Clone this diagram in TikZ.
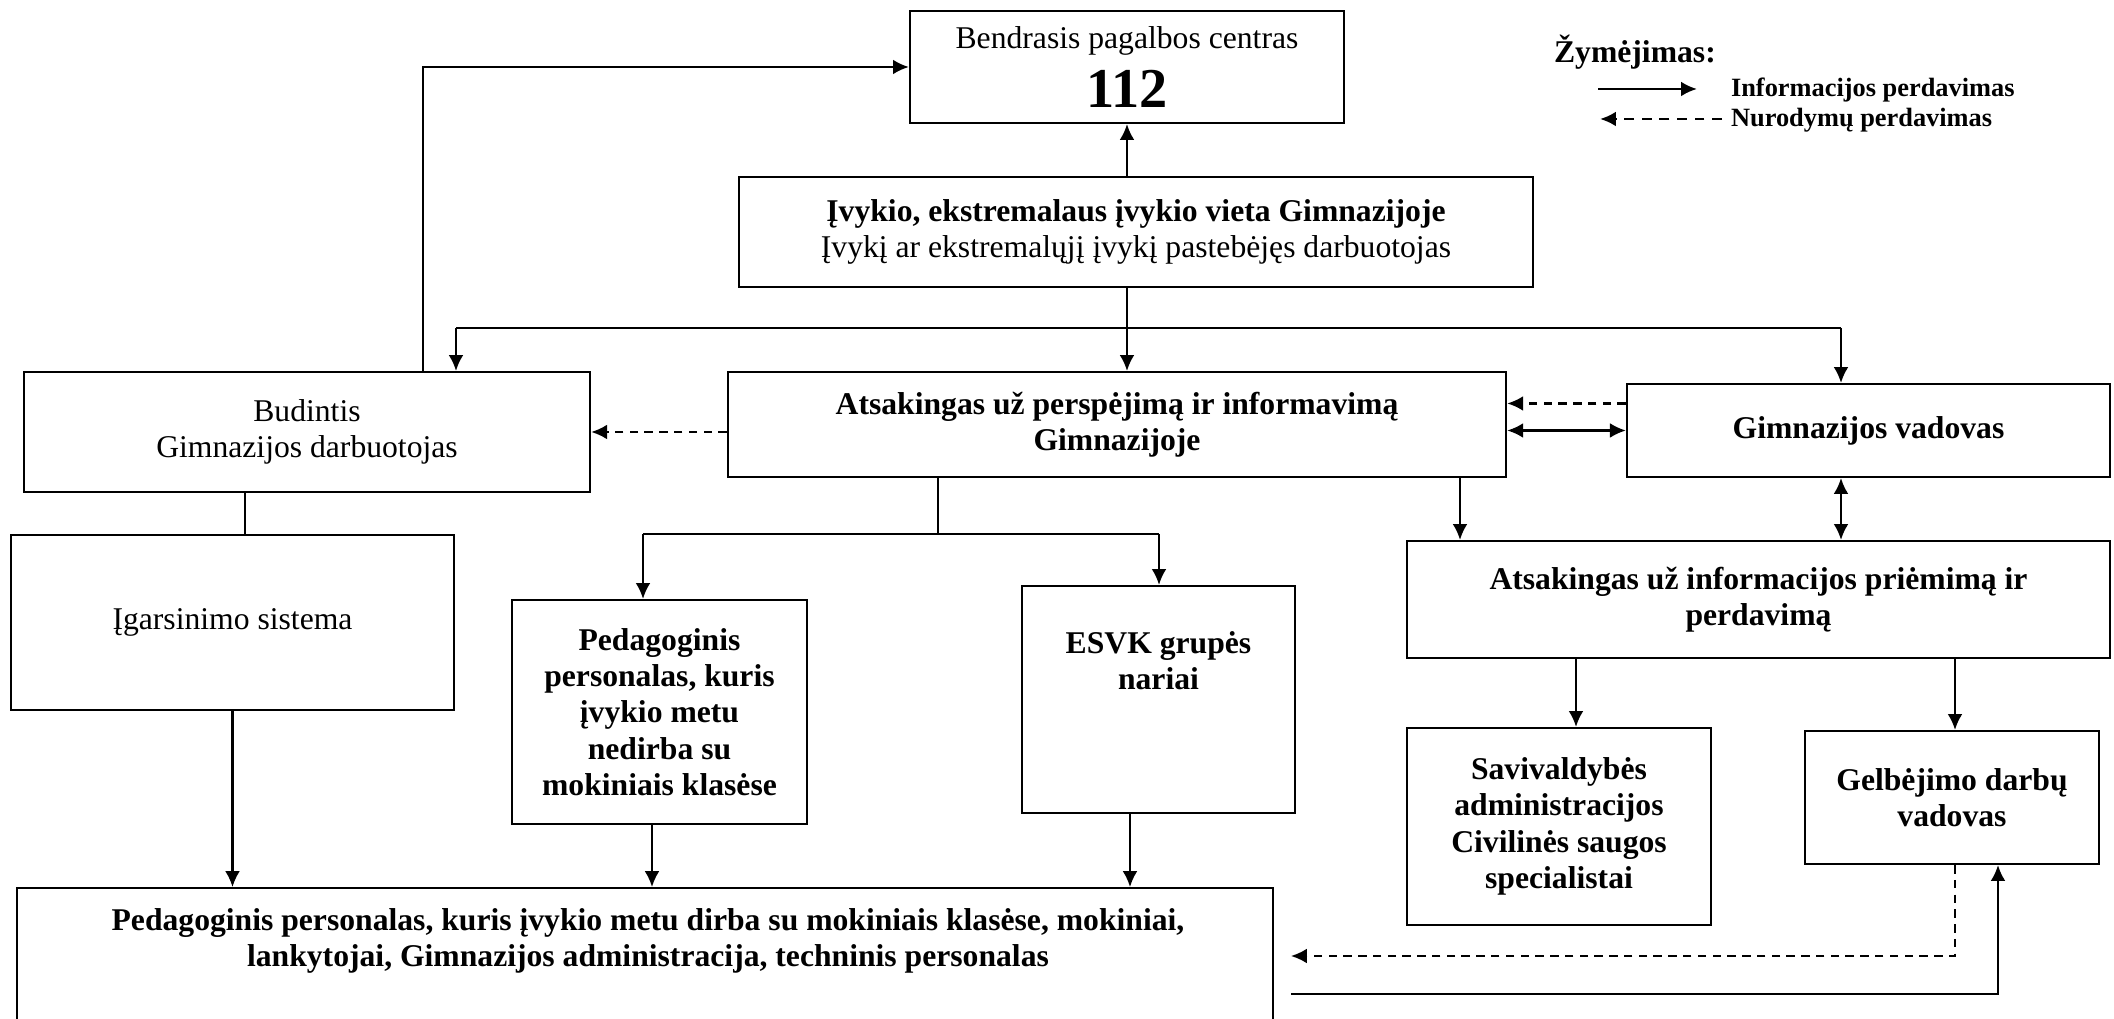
\documentclass[tikz,border=0pt]{standalone}
\usepackage{fontspec}
\setmainfont{Liberation Serif}
\usetikzlibrary{arrows.meta}

\begin{document}
\begin{tikzpicture}[x=0.01cm, y=-0.01cm, line width=0.6pt,
    font=\fontsize{9}{10.3}\selectfont,
    box/.style={draw, align=center, inner sep=2pt},
    info/.style={-{Latex[length=4.5pt,width=4.2pt]}},
    both/.style={{Latex[length=4.5pt,width=4.2pt]}-{Latex[length=4.5pt,width=4.2pt]}},
    instr/.style={dashed, dash pattern=on 2.4pt off 1.8pt, -{Latex[length=4.5pt,width=4.2pt]}}]
\useasboundingbox (0,0) rectangle (2114,1019);
\clip (0,0) rectangle (2114,1019);

\node[box, minimum width=4.34cm, minimum height=1.12cm] (bend) at (1127,67)
    {Bendrasis pagalbos centras\\[3pt]{\fontsize{16}{18}\selectfont\bfseries 112}};
\node[box, minimum width=7.94cm, minimum height=1.10cm] (ivykis) at (1136,232)
    {\textbf{Įvykio, ekstremalaus įvykio vieta Gimnazijoje}\\Įvykį ar ekstremalųjį įvykį pastebėjęs darbuotojas};
\node[box, minimum width=5.66cm, minimum height=1.20cm] (budintis) at (307,432)
    {Budintis\\Gimnazijos darbuotojas};
\node[box, font=\fontsize{9}{10.3}\selectfont\bfseries, minimum width=7.78cm, minimum height=1.05cm] (atsp) at (1117,424.5)
    {Atsakingas už perspėjimą ir informavimą\\Gimnazijoje};
\node[box, font=\fontsize{9}{10.3}\selectfont\bfseries, minimum width=4.83cm, minimum height=0.93cm] (vadovas) at (1868.5,430.5)
    {Gimnazijos vadovas};
\node[box, minimum width=4.43cm, minimum height=1.75cm] (igars) at (232.5,622.5)
    {Įgarsinimo sistema};
\node[box, font=\fontsize{9}{10.3}\selectfont\bfseries, minimum width=2.95cm, minimum height=2.24cm] (pedag) at (659.5,712)
    {Pedagoginis\\personalas, kuris\\įvykio metu\\nedirba su\\mokiniais klasėse};
\node[box, font=\fontsize{9}{10.3}\selectfont\bfseries, minimum width=2.73cm, minimum height=2.27cm] (esvk) at (1158.5,699.5)
    {ESVK grupės\\nariai\\[12pt]};
\node[box, font=\fontsize{9}{10.3}\selectfont\bfseries, minimum width=7.03cm, minimum height=1.17cm] (atspriem) at (1758.5,599.5)
    {Atsakingas už informacijos priėmimą ir\\perdavimą};
\node[box, font=\fontsize{9}{10.3}\selectfont\bfseries, minimum width=3.04cm, minimum height=1.97cm] (saviv) at (1559,826.5)
    {Savivaldybės\\administracijos\\Civilinės saugos\\specialistai};
\node[box, font=\fontsize{9}{10.3}\selectfont\bfseries, minimum width=2.94cm, minimum height=1.33cm] (gelb) at (1952,797.5)
    {Gelbėjimo darbų\\vadovas};
\node[box, anchor=north west, minimum width=12.55cm, minimum height=1.60cm] (bottom) at (16,887) {};
\node[align=center, font=\fontsize{9}{10.3}\selectfont\bfseries] (bottomtxt) at (648,941)
    {Pedagoginis personalas, kuris įvykio metu dirba su mokiniais klasėse, mokiniai,\\lankytojai, Gimnazijos administracija, techninis personalas};

\coordinate (split) at (1127,328);
\coordinate (splitL) at (456,328);
\coordinate (splitR) at (1841,328);
\coordinate (mid) at (938,534);
\coordinate (midL) at (643,534);
\coordinate (midR) at (1159,534);
\coordinate (budup) at (423,58);
\coordinate (retI) at (1291,956);
\coordinate (retS) at (1291,994);

\draw[info] (bend.south |- ivykis.north) -- (bend.south);
\draw[info] (budintis.north -| budup) |- (bend.west);
\draw (ivykis.south -| split) -- (split);
\draw (splitL) -- (splitR);
\draw[info] (splitL) -- (splitL |- budintis.north);
\draw[info] (split) -- (split |- atsp.north);
\draw[info] (splitR) -- (splitR |- vadovas.north);
\draw[instr] (budintis.east -| atsp.west) -- (budintis.east);
\draw[instr] ([yshift=0.27cm]vadovas.west) -- ([yshift=0.27cm]vadovas.west -| atsp.east);
\draw[both] (vadovas.west) -- (vadovas.west -| atsp.east);
\draw (budintis.south -| 245,0) -- (245,0 |- igars.north);
\draw (mid |- atsp.south) -- (mid);
\draw (midL) -- (midR);
\draw[info] (midL) -- (midL |- pedag.north);
\draw[info] (midR) -- (midR |- esvk.north);
\draw[info] (1460,0 |- atsp.south) -- (1460,0 |- atspriem.north);
\draw[both] (splitR |- vadovas.south) -- (splitR |- atspriem.north);
\draw[info] (1576,0 |- atspriem.south) -- (1576,0 |- saviv.north);
\draw[info] (1955,0 |- atspriem.south) -- (1955,0 |- gelb.north);
\draw[info] (igars.south) -- (igars.south |- bottom.north);
\draw[info] (652,0 |- pedag.south) -- (652,0 |- bottom.north);
\draw[info] (1130,0 |- esvk.south) -- (1130,0 |- bottom.north);
\draw[instr] (1955,0 |- gelb.south) |- (retI);
\draw[info] (retS) -| (1998,0 |- gelb.south);

\node[anchor=base west, inner sep=0pt, font=\fontsize{9}{10}\selectfont\bfseries] (legtitle) at (1553,63) {Žymėjimas:};
\coordinate (l1a) at (1598,89);
\coordinate (l1b) at (1697,89);
\coordinate (l2a) at (1722,119);
\coordinate (l2b) at (1600,119);
\draw[info, line width=0.8pt] (l1a) -- (l1b);
\draw[instr, line width=0.8pt, dash pattern=on 2.8pt off 2.2pt] (l2a) -- (l2b);
\node[anchor=base west, inner sep=0pt, font=\fontsize{7.5}{8}\selectfont\bfseries] (leginfo) at (1730,97) {Informacijos perdavimas};
\node[anchor=base west, inner sep=0pt, font=\fontsize{7.5}{8}\selectfont\bfseries] (legnur) at (1730,127) {Nurodymų perdavimas};
\end{tikzpicture}
\end{document}
